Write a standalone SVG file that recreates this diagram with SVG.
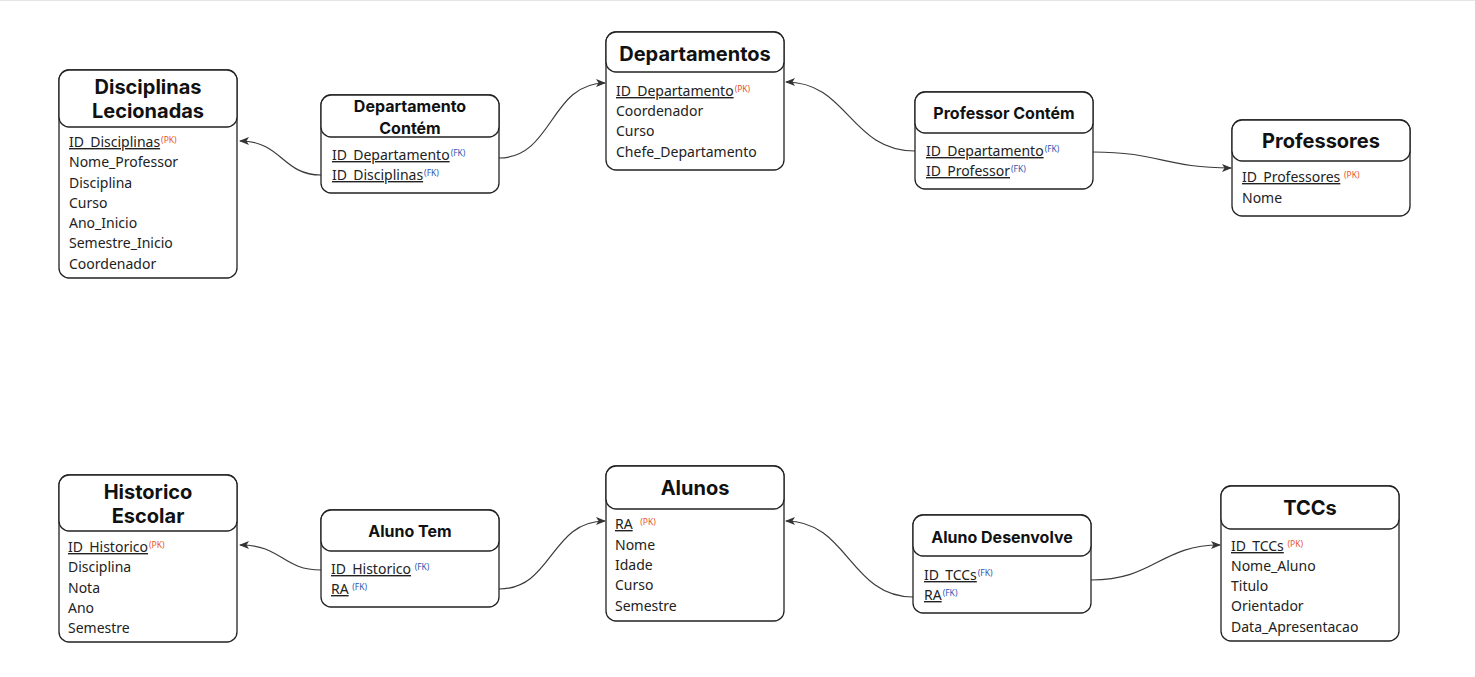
<svg xmlns="http://www.w3.org/2000/svg" width="1475" height="677" viewBox="0 0 1475 677">
<defs>
<style>
.box{fill:#fff;stroke:#222;stroke-width:1.3}
.t{font-family:Inter,"Liberation Sans",sans-serif;font-weight:700;fill:#111;text-anchor:middle}
.tl{font-size:20px}
.ts{font-size:16px}
.f{font-family:"Noto Sans","Open Sans","Liberation Sans",sans-serif;font-size:14px;fill:#222}
.u{text-decoration:underline}
.pk{font-size:8.5px;fill:#e8552b}
.fk{font-size:8.5px;fill:#2f55b0}
.c{fill:none;stroke:#3a3a3a;stroke-width:1.2}
</style>
<marker id="ah" markerWidth="10" markerHeight="10" refX="9" refY="4" orient="auto" markerUnits="userSpaceOnUse">
<path d="M0,0 L10,4 L0,8 L2.5,4 Z" fill="#333"/>
</marker>
</defs>
<rect x="0" y="0" width="1475" height="677" fill="#fff"/>
<line x1="0" y1="0.5" x2="1475" y2="0.5" stroke="#e6e6e6"/>

<g id="connectors">
<path class="c" d="M321,175 C282,175 282,141 240,141" marker-end="url(#ah)"/>
<path class="c" d="M499,158 C553,158 550,83 605,83" marker-end="url(#ah)"/>
<path class="c" d="M915,151 C850,151 848,82 786,82" marker-end="url(#ah)"/>
<path class="c" d="M1093,152 C1160,152 1165,168 1231,168" marker-end="url(#ah)"/>
<path class="c" d="M321,570 C282,570 282,545 240,545" marker-end="url(#ah)"/>
<path class="c" d="M499,589 C553,589 550,521 605,521" marker-end="url(#ah)"/>
<path class="c" d="M913,597 C850,597 848,521 786,521" marker-end="url(#ah)"/>
<path class="c" d="M1091,580 C1155,580 1160,545 1220,545" marker-end="url(#ah)"/>
</g>

<g id="disciplinas">
<rect class="box" x="59" y="70" width="178" height="208" rx="10"/>
<rect class="box" x="59" y="70" width="178" height="57" rx="10"/>
<text class="t tl" x="148" y="94">Disciplinas</text>
<text class="t tl" x="148" y="118">Lecionadas</text>
<text class="f" x="69" y="147"><tspan class="u">ID_Disciplinas</tspan><tspan class="pk" dx="1" dy="-4">(PK)</tspan></text>
<text class="f" x="69" y="167">Nome_Professor</text>
<text class="f" x="69" y="188">Disciplina</text>
<text class="f" x="69" y="208">Curso</text>
<text class="f" x="69" y="228">Ano_Inicio</text>
<text class="f" x="69" y="248">Semestre_Inicio</text>
<text class="f" x="69" y="269">Coordenador</text>
</g>

<g id="departamento-contem">
<rect class="box" x="321" y="95" width="178" height="98" rx="10"/>
<rect class="box" x="321" y="95" width="178" height="42" rx="10"/>
<text class="t ts" x="410" y="112">Departamento</text>
<text class="t ts" x="410" y="134">Contém</text>
<text class="f" x="332" y="160"><tspan class="u">ID_Departamento</tspan><tspan class="fk" dx="1" dy="-4">(FK)</tspan></text>
<text class="f" x="332" y="180"><tspan class="u">ID_Disciplinas</tspan><tspan class="fk" dx="1" dy="-4">(FK)</tspan></text>
</g>

<g id="departamentos">
<rect class="box" x="606" y="32" width="178" height="138" rx="10"/>
<rect class="box" x="606" y="32" width="178" height="40" rx="10"/>
<text class="t tl" x="695" y="61">Departamentos</text>
<text class="f" x="616" y="96"><tspan class="u">ID_Departamento</tspan><tspan class="pk" dx="1" dy="-4">(PK)</tspan></text>
<text class="f" x="616" y="116">Coordenador</text>
<text class="f" x="616" y="136">Curso</text>
<text class="f" x="616" y="157">Chefe_Departamento</text>
</g>

<g id="professor-contem">
<rect class="box" x="915" y="92" width="178" height="97" rx="10"/>
<rect class="box" x="915" y="92" width="178" height="41" rx="10"/>
<text class="t ts" x="1004" y="119">Professor Contém</text>
<text class="f" x="926" y="156"><tspan class="u">ID_Departamento</tspan><tspan class="fk" dx="1" dy="-4">(FK)</tspan></text>
<text class="f" x="926" y="176"><tspan class="u">ID_Professor</tspan><tspan class="fk" dx="1" dy="-4">(FK)</tspan></text>
</g>

<g id="professores">
<rect class="box" x="1232" y="120" width="178" height="96" rx="10"/>
<rect class="box" x="1232" y="120" width="178" height="41" rx="10"/>
<text class="t tl" x="1321" y="148">Professores</text>
<text class="f" x="1242" y="182"><tspan class="u">ID_Professores</tspan> <tspan class="pk" dy="-4">(PK)</tspan></text>
<text class="f" x="1242" y="203">Nome</text>
</g>

<g id="historico">
<rect class="box" x="59" y="475" width="178" height="167" rx="10"/>
<rect class="box" x="59" y="475" width="178" height="56" rx="10"/>
<text class="t tl" x="148" y="499">Historico</text>
<text class="t tl" x="148" y="523">Escolar</text>
<text class="f" x="68" y="552"><tspan class="u">ID_Historico</tspan><tspan class="pk" dx="1" dy="-4">(PK)</tspan></text>
<text class="f" x="68" y="572">Disciplina</text>
<text class="f" x="68" y="593">Nota</text>
<text class="f" x="68" y="613">Ano</text>
<text class="f" x="68" y="633">Semestre</text>
</g>

<g id="aluno-tem">
<rect class="box" x="321" y="510" width="178" height="97" rx="10"/>
<rect class="box" x="321" y="510" width="178" height="41" rx="10"/>
<text class="t ts" x="410" y="537">Aluno Tem</text>
<text class="f" x="331" y="574"><tspan class="u">ID_Historico</tspan> <tspan class="fk" dy="-4">(FK)</tspan></text>
<text class="f" x="331" y="594"><tspan class="u">RA</tspan> <tspan class="fk" dy="-4">(FK)</tspan></text>
</g>

<g id="alunos">
<rect class="box" x="606" y="466" width="178" height="155" rx="10"/>
<rect class="box" x="606" y="466" width="178" height="43" rx="10"/>
<text class="t tl" x="695" y="495">Alunos</text>
<text class="f" x="615" y="529"><tspan class="u">RA</tspan> <tspan class="pk" dx="4" dy="-4">(PK)</tspan></text>
<text class="f" x="615" y="550">Nome</text>
<text class="f" x="615" y="570">Idade</text>
<text class="f" x="615" y="590">Curso</text>
<text class="f" x="615" y="611">Semestre</text>
</g>

<g id="aluno-desenvolve">
<rect class="box" x="913" y="515" width="178" height="98" rx="10"/>
<rect class="box" x="913" y="515" width="178" height="41" rx="10"/>
<text class="t ts" x="1002" y="543">Aluno Desenvolve</text>
<text class="f" x="924" y="580"><tspan class="u">ID_TCCs</tspan><tspan class="fk" dx="1" dy="-4">(FK)</tspan></text>
<text class="f" x="924" y="600"><tspan class="u">RA</tspan><tspan class="fk" dx="1" dy="-4">(FK)</tspan></text>
</g>

<g id="tccs">
<rect class="box" x="1221" y="486" width="178" height="155" rx="10"/>
<rect class="box" x="1221" y="486" width="178" height="43" rx="10"/>
<text class="t tl" x="1310" y="515">TCCs</text>
<text class="f" x="1231" y="551"><tspan class="u">ID_TCCs</tspan> <tspan class="pk" dy="-4">(PK)</tspan></text>
<text class="f" x="1231" y="571">Nome_Aluno</text>
<text class="f" x="1231" y="591">Titulo</text>
<text class="f" x="1231" y="611">Orientador</text>
<text class="f" x="1231" y="632">Data_Apresentacao</text>
</g>
</svg>
